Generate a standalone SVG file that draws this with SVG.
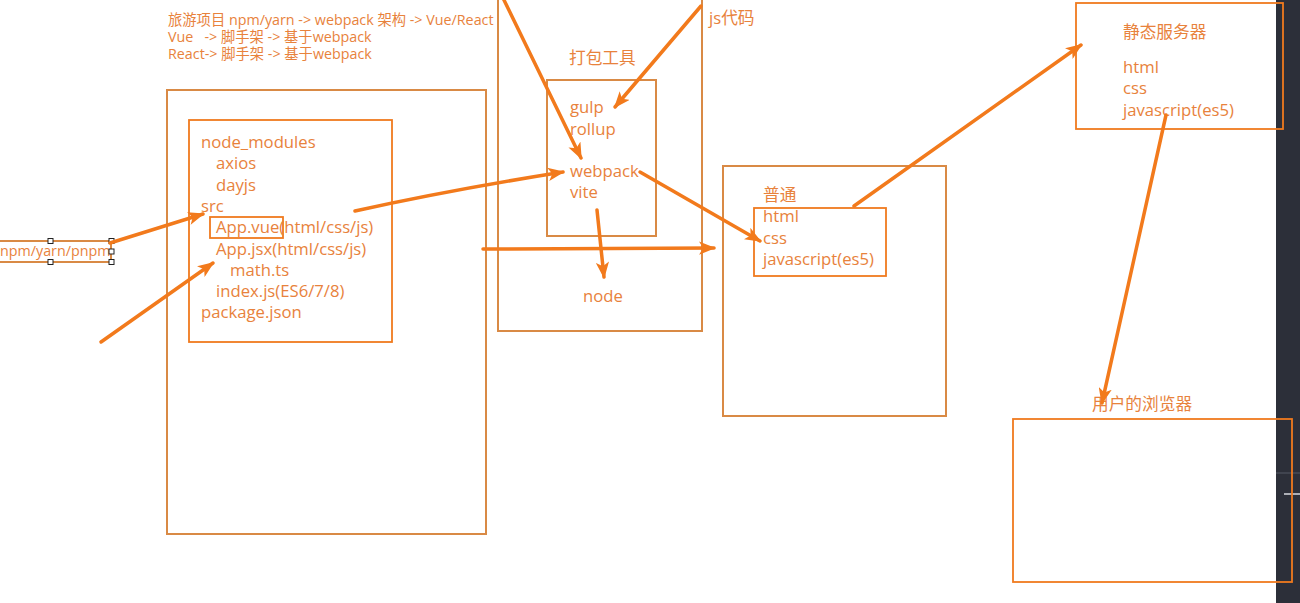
<svg xmlns="http://www.w3.org/2000/svg" width="1300" height="603" viewBox="0 0 1300 603">
<style>
.t{font-family:"Open Sans","Noto Sans CJK SC",sans-serif;fill:#e8823c;font-size:16.7px;white-space:pre}
.h{font-size:14.3px}
.s{font-size:14.3px}
.b1{fill:none;stroke:#d98a45;stroke-width:2}
.b2{fill:none;stroke:#f07a1e;stroke-width:1.8}
.a{fill:none;stroke:#f27a1c;stroke-width:3.5;stroke-linecap:round;marker-end:url(#ah)}
.hd{fill:#fff;stroke:#222;stroke-width:1}
</style>
<defs>
<marker id="ah" viewBox="0 0 10 8" refX="9" refY="4" markerWidth="4.8" markerHeight="3.8" orient="auto" markerUnits="strokeWidth">
<path d="M0,0 L10,4 L0,8 L2.5,4 Z" fill="#f27a1c"/>
</marker>
</defs>
<rect width="1300" height="603" fill="#ffffff"/>
<rect x="1276" y="0" width="24" height="603" fill="#2c2f39"/>
<line x1="1276" y1="473" x2="1300" y2="473" stroke="#555a66" stroke-width="1"/>
<line x1="1284" y1="494" x2="1300" y2="494" stroke="#d8dbe0" stroke-width="1.5"/>

<g id="header">
<text class="t h" x="168" y="25">旅游项目 npm/yarn -&gt; webpack 架构 -&gt; Vue/React</text>
<text class="t h" x="168" y="42" xml:space="preserve">Vue   -&gt; 脚手架 -&gt; 基于webpack</text>
<text class="t h" x="168" y="59">React-&gt; 脚手架 -&gt; 基于webpack</text>
</g>

<g id="npm">
<rect class="b1" x="-2" y="241" width="113" height="21" stroke-width="1.5"/>
<text class="t s" x="0" y="256">npm/yarn/pnpm</text>
<rect class="hd" x="48" y="238.5" width="5" height="5"/>
<rect class="hd" x="48" y="259.5" width="5" height="5"/>
<rect class="hd" x="109" y="238.5" width="5" height="5"/>
<rect class="hd" x="109" y="249" width="5" height="5"/>
<rect class="hd" x="109" y="259.5" width="5" height="5"/>
</g>

<g id="project">
<rect class="b1" x="167" y="90" width="319" height="444"/>
<rect class="b2" x="189" y="120" width="203" height="222"/>
<rect class="b2" x="210" y="217" width="73" height="21"/>
<text class="t" x="201" y="148">node_modules</text>
<text class="t" x="216" y="169">axios</text>
<text class="t" x="216" y="191">dayjs</text>
<text class="t" x="201" y="212">src</text>
<text class="t" x="216" y="233">App.vue(html/css/js)</text>
<text class="t" x="216" y="255">App.jsx(html/css/js)</text>
<text class="t" x="230" y="276">math.ts</text>
<text class="t" x="216" y="297">index.js(ES6/7/8)</text>
<text class="t" x="201" y="318">package.json</text>
</g>

<g id="bundler">
<rect class="b1" x="498" y="-5" width="204" height="336"/>
<text class="t" x="569" y="64">打包工具</text>
<rect class="b1" x="547" y="80" width="109" height="156"/>
<text class="t" x="570" y="113">gulp</text>
<text class="t" x="570" y="135">rollup</text>
<text class="t" x="570" y="177">webpack</text>
<text class="t" x="570" y="198">vite</text>
<text class="t" x="583" y="302">node</text>
</g>

<g id="jscode">
<text class="t" x="709" y="24">js代码</text>
</g>

<g id="normal">
<rect class="b1" x="723" y="166" width="223" height="250"/>
<text class="t" x="763" y="201">普通</text>
<rect class="b2" x="754" y="208" width="132" height="68"/>
<text class="t" x="763" y="222">html</text>
<text class="t" x="763" y="244">css</text>
<text class="t" x="763" y="265">javascript(es5)</text>
</g>

<g id="static">
<rect class="b2" x="1076" y="3" width="207" height="126"/>
<text class="t" x="1123" y="38">静态服务器</text>
<text class="t" x="1123" y="73">html</text>
<text class="t" x="1123" y="94">css</text>
<text class="t" x="1123" y="116">javascript(es5)</text>
</g>

<g id="browser">
<text class="t" x="1092" y="410">用户的浏览器</text>
<rect class="b2" x="1013" y="419" width="279" height="163"/>
</g>

<g id="connectors">
<path class="a" d="M110,243 L203,214"/>
<path class="a" d="M101,342 L213,263"/>
<path class="a" d="M355,211 Q450,190 563,172"/>
<path class="a" d="M503,-2 L581,158"/>
<path class="a" d="M701,6 L615,107"/>
<path class="a" d="M640,172 L760,241"/>
<path class="a" d="M597,210 Q600,240 604,277"/>
<path class="a" d="M483,249 L714,248"/>
<path class="a" d="M854,206 L1081,45"/>
<path class="a" d="M1166,115 L1102,403"/>
</g>
</svg>
